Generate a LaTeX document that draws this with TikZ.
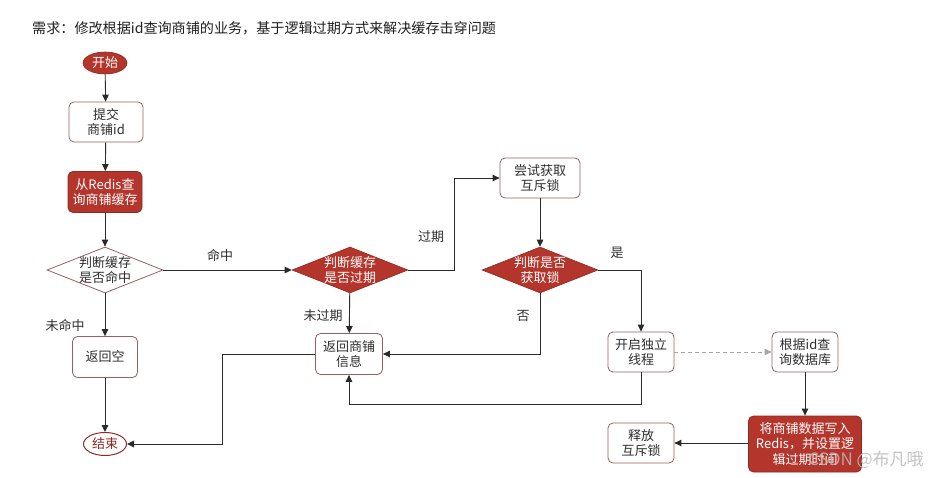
\documentclass[tikz,border=0pt]{standalone}
\usepackage{fontspec}
\setmainfont{Noto Sans CJK SC}
\usetikzlibrary{shapes.geometric,arrows.meta}
\definecolor{redc}{HTML}{B3352B}
\definecolor{redborder}{HTML}{8E2A22}
\definecolor{boxborder}{HTML}{9A5F5F}
\definecolor{textc}{HTML}{2E2E2E}
\definecolor{linec}{HTML}{2A2A2A}
\tikzset{
  base/.style={font=\fontsize{13}{15.5}\selectfont, align=center, inner sep=0pt},
  startnode/.style={base, ellipse, fill=redc, draw=redborder, line width=0.6pt, text=white, minimum width=44pt, minimum height=22pt},
  endnode/.style={base, ellipse, fill=white, draw=redborder, line width=1pt, text=redborder, minimum width=43pt, minimum height=23pt},
  wbox/.style={base, rectangle, rounded corners=5pt, draw=boxborder, line width=0.8pt, fill=white, text=textc},
  rbox/.style={base, rectangle, rounded corners=5pt, draw=redborder, line width=0.8pt, fill=redc, text=white},
  wdia/.style={diamond, draw=boxborder, line width=0.8pt, fill=white, minimum width=116pt, minimum height=46pt, inner sep=0pt, aspect=2.52},
  rdia/.style={diamond, draw=redborder, line width=0.6pt, fill=redc, minimum width=116pt, minimum height=46pt, inner sep=0pt, aspect=2.52},
  wtxt/.style={base, text=textc},
  rtxt/.style={base, text=white},
  lbl/.style={base, text=textc},
  arr/.style={draw=linec, line width=0.9pt, -{Triangle[length=7pt,width=6.5pt]}},
  dasharr/.style={draw=gray!70, line width=0.9pt, dash pattern=on 4pt off 3pt, -{Triangle[length=7pt,width=6.5pt]}},
}
\begin{document}
\begin{tikzpicture}[x=1pt,y=-1pt]
\useasboundingbox (0,0) rectangle (929,478);
\fill[white] (0,0) rectangle (929,478);

% title
\node[anchor=west, inner sep=0pt, font=\fontsize{14.1}{17}\selectfont, text=black!88] (title) at (32,28) {需求：修改根据id查询商铺的业务，基于逻辑过期方式来解决缓存击穿问题};

% left column
\node[startnode] (start) at (105,63) {开始};
\node[wbox, minimum width=74pt, minimum height=40pt] (submit) at (106,122) {提交\\商铺id};
\node[rbox, minimum width=74pt, minimum height=41pt] (query) at (105,192) {从Redis查\\询商铺缓存};
\node[wdia] (d1) at (105,270) {};
\node[wtxt] (d1t) at (d1.center) {判断缓存\\是否命中};
\node[wbox, minimum width=65pt, minimum height=41pt] (retnull) at (105,357) {返回空};
\node[endnode] (end) at (105,444) {结束};

% middle
\node[rdia] (d2) at (350,270) {};
\node[rtxt] (d2t) at (d2.center) {判断缓存\\是否过期};
\node[wbox, minimum width=67pt, minimum height=41pt] (retinfo) at (349,354) {返回商铺\\信息};
\node[wbox, minimum width=80pt, minimum height=40pt] (trylock) at (540,178) {尝试获取\\互斥锁};
\node[rdia] (d3) at (540,270) {};
\node[rtxt] (d3t) at (d3.center) {判断是否\\获取锁};

% right
\node[wbox, minimum width=66pt, minimum height=40pt] (thread) at (641,352) {开启独立\\线程};
\node[wbox, minimum width=66pt, minimum height=40pt] (db) at (805,352) {根据id查\\询数据库};
\node[rbox, minimum width=113pt, minimum height=56pt] (write) at (805,444) {将商铺数据写入\\Redis，并设置逻\\辑过期时间};
\node[wbox, minimum width=66pt, minimum height=40pt] (release) at (641,443) {释放\\互斥锁};

% labels
\node[lbl] (lhit) at (220,255) {命中};
\node[lbl] (lmiss) at (65,325) {未命中};
\node[lbl] (lnotexp) at (323,316) {未过期};
\node[lbl] (lexp) at (431,237) {过期};
\node[lbl] (lyes) at (617,253) {是};
\node[lbl] (lno) at (523,316) {否};

% helper coordinates
\coordinate (c1) at (454,270);
\coordinate (c2) at (641,404);
\coordinate (c3) at (222,354);

% connectors
\draw[arr] (start) -- (submit);
\draw[arr] (submit) -- (query);
\draw[arr] (query) -- (d1);
\draw[arr] (d1) -- (d2);
\draw[arr] (d1) -- (retnull);
\draw[arr] (retnull) -- (end);
\draw[arr] (d2) -- (retinfo);
\draw[arr] (d2.east) -- (c1) |- (trylock.west);
\draw[arr] (trylock) -- (d3);
\draw[arr] (d3.east) -| (thread.north);
\draw[arr] (d3.south) |- (retinfo.east);
\draw[arr] (thread.south) -- (c2) -| (retinfo.south);
\draw[arr] (retinfo.west) -- (c3) |- (end.east);
\draw[dasharr] (thread.east) -- (db.west);
\draw[arr] (db) -- (write);
\draw[arr] (write.west |- release.east) -- (release.east);

% watermark (overlaps the box, as in the reference)
\node[inner sep=0pt, font=\fontsize{17}{20}\selectfont, text=gray!55, opacity=0.85] (wm) at (866,460) {CSDN @布凡哦};
\end{tikzpicture}
\end{document}
